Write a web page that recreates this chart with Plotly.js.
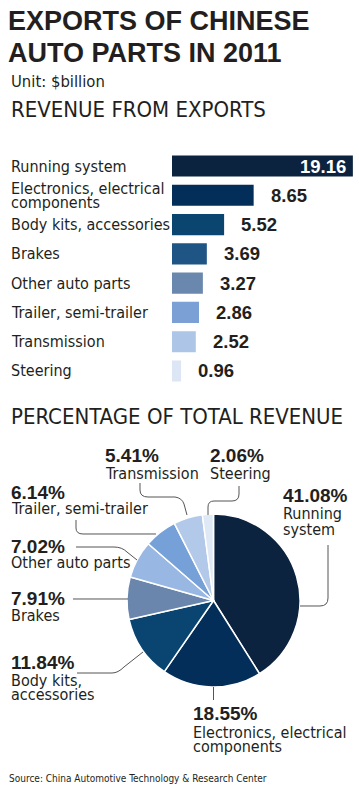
<!DOCTYPE html>
<html>
<head>
<meta charset="utf-8">
<script src="https://cdn.plot.ly/plotly-3.0.1.min.js"></script>
<style>
html,body{margin:0;padding:0;background:#fff;}
#chart{width:359px;height:792px;}
</style>
</head>
<body>
<div id="chart"></div>
<script>
// ---------- DATA ----------
var categories = ['Running system','Electronics, electrical components','Body kits, accessories','Brakes','Other auto parts','Trailer, semi-trailer','Transmission','Steering'];
var revenue = [19.16, 8.65, 5.52, 3.69, 3.27, 2.86, 2.52, 0.96];
var shares = [41.08, 18.55, 11.84, 7.91, 7.02, 6.14, 5.41, 2.06];
var barLabelLines = [['Running system'],['Electronics, electrical','components'],['Body kits, accessories'],['Brakes'],['Other auto parts'],['Trailer, semi-trailer'],['Transmission'],['Steering']];
var pieNameLines = [['Running','system'],['Electronics, electrical','components'],['Body kits,','accessories'],['Brakes'],['Other auto parts'],['Trailer, semi-trailer'],['Transmission'],['Steering']];
var titleLines = ['EXPORTS OF CHINESE','AUTO PARTS IN 2011'];
var unitText = 'Unit: $billion';
var barHeading = 'REVENUE FROM EXPORTS';
var pieHeading = 'PERCENTAGE OF TOTAL REVENUE';
var sourceText = 'Source: China Automotive Technology &amp; Research Center';

// ---------- STYLE ----------
var barColors = ['#0c2340','#032e5a','#0a4570','#1f5585','#6a87ae','#7aa0d5','#adc5e6','#dce6f4'];
var pieColors = ['#0c2340','#032e5a','#0a4470','#6a86ad','#98b7e3','#76a0d8','#b3c9e9','#dfe8f5'];
var W = 359, H = 792;
var ink = '#231f20';
var narrow = '"DejaVu Sans Condensed","DejaVu Sans",sans-serif';
var bold = '"Liberation Sans",Arial,sans-serif';
function X(p){ return p / W; }
function Y(p){ return 1 - p / H; }

var annotations = [];
function txt(s, x, y, size, family, weight){
  annotations.push({text: s, xref:'paper', yref:'paper', x: X(x), y: Y(y), xanchor:'left', yanchor:'middle',
    showarrow:false, font:{size:size, family:family, color:ink, weight: weight || 400}});
}

// headings
txt(titleLines[0], 6, 21, 27, bold, 700);
txt(titleLines[1], 6, 53, 27, bold, 700);
txt(unitText, 9, 81, 16.5, narrow);
txt(barHeading, 9, 109, 22, narrow);
txt(pieHeading, 9, 416, 22, narrow);
txt(sourceText, 7, 778, 10, narrow);

// bar category labels & values
var maxRev = Math.max.apply(null, revenue);
categories.forEach(function(c, i){
  var lines = barLabelLines[i];
  lines.forEach(function(l, j){
    var shift = lines.length > 1 ? (j === 0 ? 7 : -7) : 0;
    annotations.push({text:l, xref:'paper', yref:'y', x: X(9), y: c, xanchor:'left', yanchor:'middle', yshift: shift,
      showarrow:false, font:{size:16, family:narrow, color:ink}});
  });
  var inside = revenue[i] / maxRev > 0.5;
  annotations.push({text: revenue[i].toFixed(2), xref:'x', yref:'y', x: revenue[i], y: c,
    xanchor: inside ? 'right' : 'left', xshift: inside ? -5 : 15, yanchor:'middle',
    showarrow:false, font:{size:18.5, family:bold, weight:700, color: inside ? '#ffffff' : ink}});
});

// pie labels (pixel layout positions: [x, yPct, [yName...]])
var pieLabelPos = [
  [281, 495, [513, 529]],
  [191, 713, [732, 746]],
  [9, 662, [680, 694]],
  [9, 598.5, [615.5]],
  [9, 546, [562]],
  [9, 492, [508]],
  [103, 455.5, [473]],
  [208, 455.5, [473]]
];
shares.forEach(function(s, i){
  var p = pieLabelPos[i];
  txt(s.toFixed(2) + '%', p[0], p[1], 19, bold, 700);
  pieNameLines[i].forEach(function(l, j){
    txt(l, p[0], p[2][j], 16, narrow);
  });
});

// leader lines (pixel coordinates converted to paper)
function path(cmds){
  return cmds.map(function(c){
    var out = c[0];
    for (var k = 1; k < c.length; k += 2) out += ' ' + X(c[k]).toFixed(5) + ',' + Y(c[k+1]).toFixed(5);
    return out;
  }).join(' ');
}
var leaders = [
  [['M',328,545],['L',328,598],['Q',328,606,320,606],['L',300,606]],
  [['M',213.5,687],['L',213.5,700]],
  [['M',77,673],['L',112,673],['Q',118,673,124,667],['L',143,652]],
  [['M',73,599],['L',128,599]],
  [['M',76,547],['L',114,547],['Q',122,547,127,552],['L',137,560]],
  [['M',76,520],['L',76,528],['Q',76,534,83,534],['L',156,534]],
  [['M',140,483],['L',140,490],['Q',140,497,148,497],['L',175,497],['Q',182,498,184,504],['L',187,515]],
  [['M',239,486],['L',239,494],['Q',239,501,232,501],['L',214,501],['Q',208,501,208,507],['L',208,515]]
];
var shapes = leaders.map(function(l){
  return {type:'path', xref:'paper', yref:'paper', path: path(l), line:{color:'#555555', width:1}, layer:'above'};
});

var barTrace = {
  type:'bar', orientation:'h', x: revenue, y: categories,
  marker:{color: barColors, line:{width:0}}, hoverinfo:'none', xaxis:'x', yaxis:'y'
};
var pieTrace = {
  type:'pie', values: shares, labels: categories, sort:false, direction:'clockwise', rotation:0,
  marker:{colors: pieColors, line:{color:'#ffffff', width:1.5}}, textinfo:'none', hoverinfo:'none',
  showlegend:false, domain:{x:[X(127), X(300)], y:[Y(687), Y(514)]}
};

var layout = {
  width: W, height: H, margin:{l:0,r:0,t:0,b:0},
  paper_bgcolor:'#ffffff', plot_bgcolor:'rgba(0,0,0,0)', showlegend:false,
  bargap: 0.28,
  xaxis:{domain:[X(172), X(356)], range:[0, (356-172)/9.44], visible:false, fixedrange:true},
  yaxis:{domain:[Y(385.6), Y(151.4)], type:'category', autorange:'reversed', visible:false, fixedrange:true},
  annotations: annotations, shapes: shapes
};
Plotly.newPlot('chart', [barTrace, pieTrace], layout, {displayModeBar:false, staticPlot:true});
</script>
</body>
</html>
